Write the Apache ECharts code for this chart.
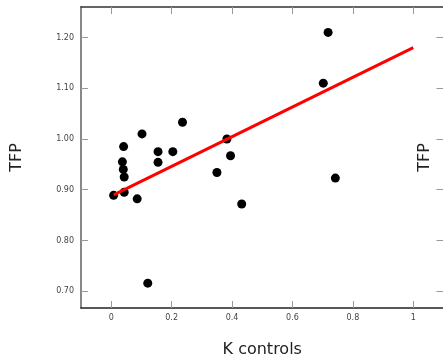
<!DOCTYPE html>
<html>
<head>
<meta charset="utf-8">
<script src="https://cdn.jsdelivr.net/npm/echarts@6/dist/echarts.min.js"></script>
<style>
  html, body { margin: 0; padding: 0; background: #fff; }
  #chart { width: 443px; height: 357px; }
</style>
</head>
<body>
<div id="chart"></div>
<script>
// data
const kControls = [0.008, 0.043, 0.086, 0.043, 0.040, 0.037, 0.041, 0.102, 0.155, 0.155,
                   0.204, 0.236, 0.121, 0.350, 0.383, 0.395, 0.432, 0.718, 0.702, 0.742];
const tfp = [0.889, 0.895, 0.882, 0.925, 0.940, 0.955, 0.985, 1.010, 0.975, 0.954,
             0.975, 1.033, 0.716, 0.934, 1.000, 0.967, 0.872, 1.210, 1.110, 0.923];
const fitX = [0.008, 1];
const fitY = [0.890, 1.180];
const xTicks = [0, 0.2, 0.4, 0.6, 0.8, 1];
const yTicks = [0.7, 0.8, 0.9, 1.0, 1.1, 1.2];

const font = 'DejaVu Sans';
const tick = { show: true, inside: true, length: 7, lineStyle: { color: '#999', width: 1 } };

function xAxis(pos, lineColor, withLabels) {
    return {
        type: 'value', position: pos, min: -0.1, max: 1.1,
        splitLine: { show: false },
        axisLine: { show: true, onZero: false, lineStyle: { color: lineColor, width: 1.5 } },
        axisTick: Object.assign({ customValues: xTicks }, tick),
        axisLabel: {
            show: withLabels, customValues: xTicks, margin: 6,
            fontFamily: font, fontSize: 8, color: '#444',
            formatter: v => String(+(+v).toFixed(1))
        }
    };
}

function yAxis(pos, showLine, withLabels, gap) {
    return {
        type: 'value', position: pos, min: 0.667, max: 1.26,
        splitLine: { show: false },
        axisLine: { show: showLine, onZero: false, lineStyle: { color: '#888', width: 2 } },
        axisTick: Object.assign({ customValues: yTicks }, tick),
        axisLabel: {
            show: withLabels, customValues: yTicks, margin: 7,
            fontFamily: font, fontSize: 8, color: '#444',
            formatter: v => (+v).toFixed(2)
        },
        name: 'TFP', nameLocation: 'middle', nameRotate: 90, nameGap: gap,
        nameTextStyle: { fontFamily: font, fontSize: 16, color: '#222' }
    };
}

const chart = echarts.init(document.getElementById('chart'));
const bottom = xAxis('bottom', '#222', true);
bottom.name = 'K controls';
bottom.nameLocation = 'middle';
bottom.nameGap = 34;
bottom.nameTextStyle = { fontFamily: font, fontSize: 16, color: '#222' };

chart.setOption({
    animation: false,
    grid: { left: 81, top: 7, width: 362.5, height: 301, outerBoundsMode: 'none' },
    xAxis: [bottom, xAxis('top', '#333', false)],
    yAxis: [yAxis('left', true, true, 56), yAxis('right', false, false, -27)],
    series: [
        {
            type: 'scatter',
            data: kControls.map((x, i) => [x, tfp[i]]),
            symbolSize: 9,
            itemStyle: { color: '#000', opacity: 1 }
        },
        {
            type: 'line',
            data: fitX.map((x, i) => [x, fitY[i]]),
            showSymbol: false,
            lineStyle: { color: '#ff0000', width: 3 },
            itemStyle: { color: '#ff0000' }
        }
    ]
});
</script>
</body>
</html>
